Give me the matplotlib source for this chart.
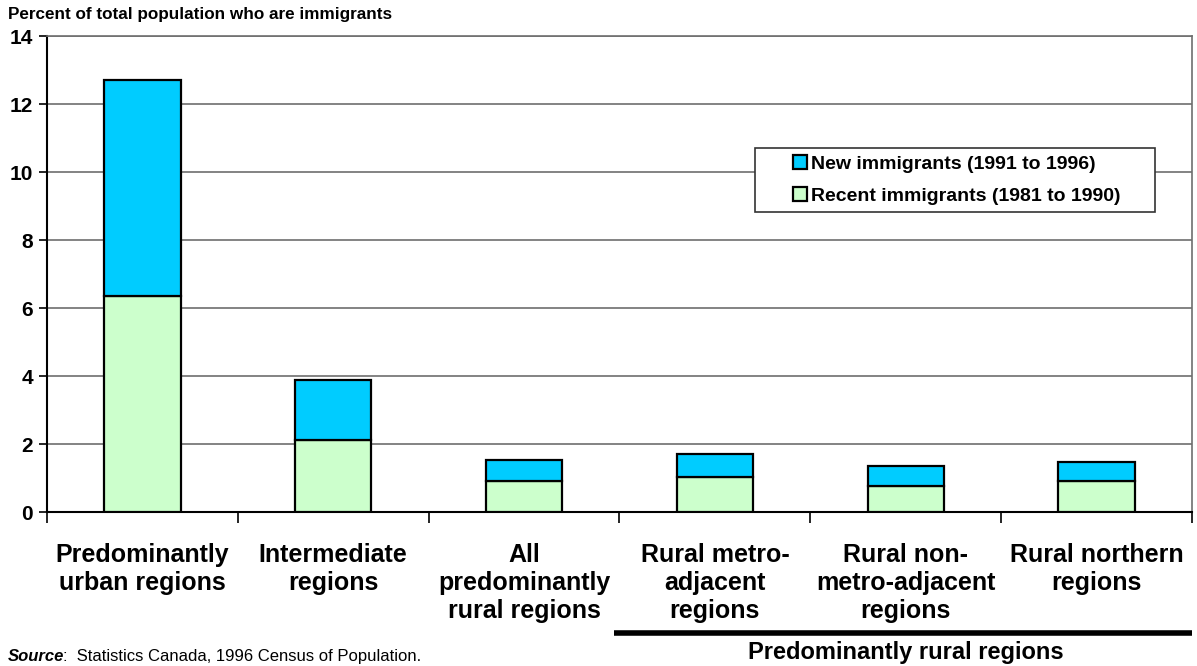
import numpy as np
import matplotlib
matplotlib.use("Agg")
import matplotlib.pyplot as plt
from matplotlib.patches import Rectangle
from matplotlib.transforms import blended_transform_factory

plt.rcParams['font.family'] = ['Liberation Sans', 'DejaVu Sans']

categories = [
    "Predominantly\nurban regions",
    "Intermediate\nregions",
    "All\npredominantly\nrural regions",
    "Rural metro-\nadjacent\nregions",
    "Rural non-\nmetro-adjacent\nregions",
    "Rural northern\nregions",
]
recent = [6.35, 2.13, 0.92, 1.04, 0.76, 0.92]   # 1981 to 1990
new = [6.37, 1.75, 0.61, 0.66, 0.59, 0.56]      # 1991 to 1996
yticks = [0, 2, 4, 6, 8, 10, 12, 14]

W, H = 1197, 666
fig = plt.figure(figsize=(W / 100, H / 100), dpi=100)
ax = fig.add_axes([47 / W, 1 - 512 / H, (1192 - 47) / W, (512 - 36) / H])

x = np.arange(len(categories))
b_recent = ax.bar(x, recent, width=0.40, color='#CCFFCC', edgecolor='black',
                  linewidth=1.6, zorder=3)
b_new = ax.bar(x, new, bottom=recent, width=0.40, color='#00CCFF', edgecolor='black',
               linewidth=1.6, zorder=3)

ax.set_xlim(-0.5, len(categories) - 0.5)
ax.set_ylim(0, 14)
ax.set_yticks(yticks)
ax.set_yticklabels([str(v) for v in yticks], fontsize=15, fontweight='bold')
ax.yaxis.grid(True, color='#6e6e6e', linewidth=1.2, zorder=0)
ax.set_axisbelow(True)

# tick marks on the category boundaries, labels in the middle
ax.set_xticks(np.arange(-0.5, len(categories)), minor=False)
ax.set_xticklabels([])
ax.set_xticks(x, minor=True)
ax.set_xticklabels(categories, minor=True, fontsize=18, fontweight='bold',
                   linespacing=1.22)
ax.tick_params(axis='x', which='major', direction='out', length=8, width=1.2)
ax.tick_params(axis='x', which='minor', length=0, pad=22)
ax.tick_params(axis='y', direction='out', length=6, width=1.2, pad=4)

for side in ['left', 'bottom']:
    ax.spines[side].set_color('black')
    ax.spines[side].set_linewidth(1.5)
for side in ['top', 'right']:
    ax.spines[side].set_color('#6e6e6e')
    ax.spines[side].set_linewidth(1.2)

# legend box drawn separately so its padding can be set freely
ax.add_patch(Rectangle((755 / W, 1 - 212 / H), 400 / W, 64 / H,
                       transform=fig.transFigure, facecolor='white',
                       edgecolor='#333333', linewidth=1.2, zorder=4,
                       clip_on=False))
leg = ax.legend([b_new, b_recent],
                ['New immigrants (1991 to 1996)', 'Recent immigrants (1981 to 1990)'],
                loc='center left', bbox_to_anchor=(793 / W, 1 - 180 / H),
                bbox_transform=fig.transFigure, frameon=False,
                prop={'weight': 'bold', 'size': 14},
                handlelength=0.72, handleheight=0.72, handletextpad=0.2,
                borderpad=0, labelspacing=0.7, borderaxespad=0)
leg.set_zorder(5)

# bracket under the rural sub-regions
trans = blended_transform_factory(ax.transData, ax.transAxes)
ax.plot([2.47, 5.5], [-0.254, -0.254], color='black', linewidth=4,
        transform=trans, clip_on=False, solid_capstyle='butt')
ax.text(4.0, -0.295, 'Predominantly rural regions', transform=trans,
        ha='center', va='center', fontsize=17, fontweight='bold')

fig.text(8 / W, 1 - 15 / H, 'Percent of total population who are immigrants',
         fontsize=12.3, fontweight='bold', va='center', ha='left')

src = fig.text(8 / W, 0.0075, 'Source', fontsize=12, fontweight='bold',
               fontstyle='italic', va='baseline', ha='left')
ax.annotate(':  Statistics Canada, 1996 Census of Population.', xy=(1, 0),
            xycoords=src, xytext=(-1, 0), textcoords='offset points',
            fontsize=12, va='bottom', ha='left')

fig.savefig('out.png', dpi=100)
